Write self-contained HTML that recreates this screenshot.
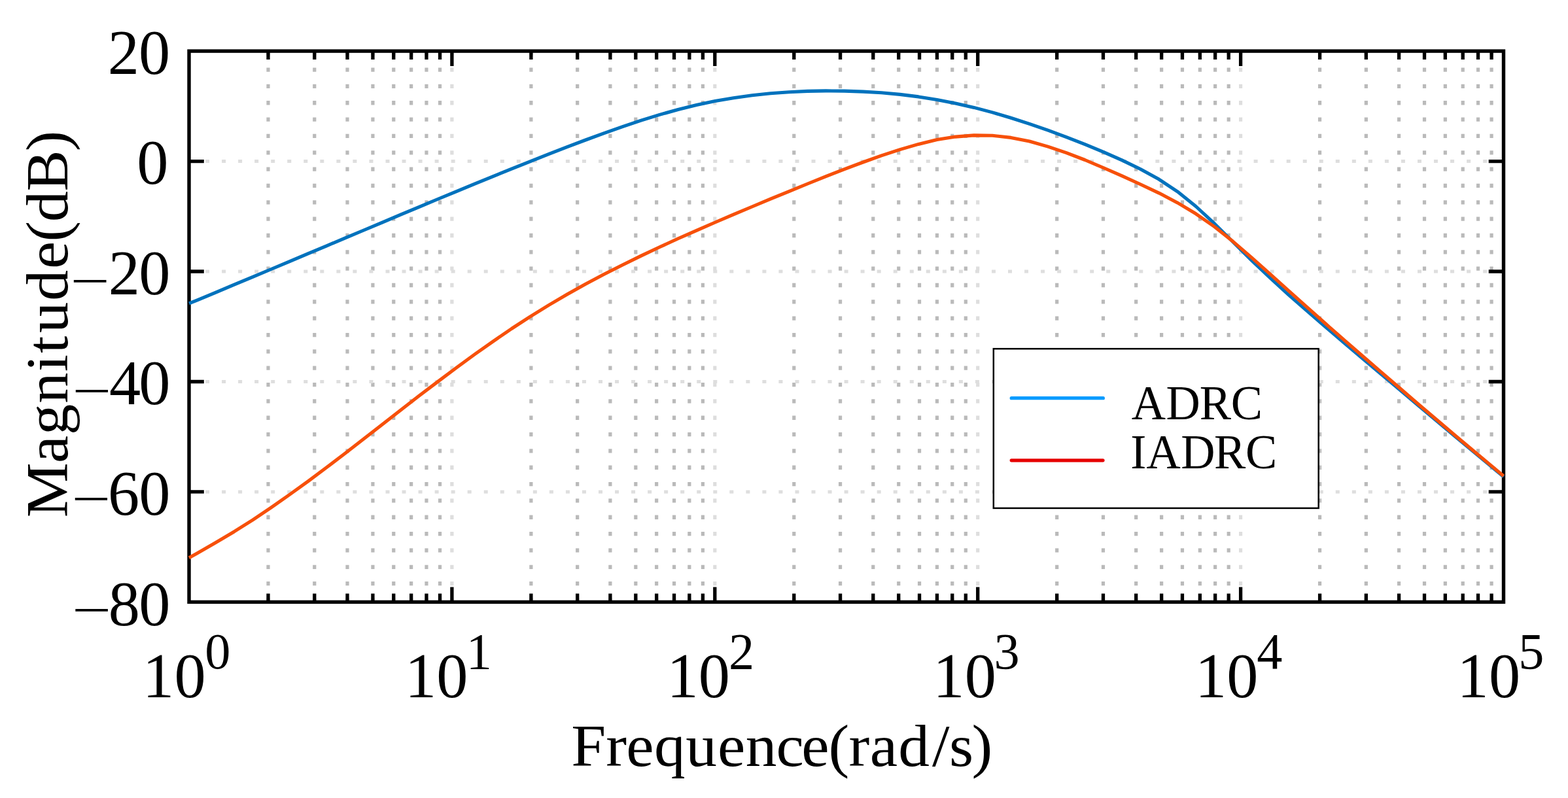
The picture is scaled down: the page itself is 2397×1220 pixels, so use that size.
<!DOCTYPE html>
<html lang="en"><head><meta charset="utf-8"><title>Magnitude (dB) vs Frequence (rad/s): ADRC and IADRC</title>
<style>html,body{margin:0;padding:0;background:#fff;}body{width:2397px;height:1220px;overflow:hidden;}svg{display:block;}text{font-family:"Liberation Serif","DejaVu Serif",serif;fill:#000;white-space:pre;}</style></head><body>
<svg xmlns="http://www.w3.org/2000/svg" width="2397" height="1220" viewBox="0 0 2397 1220">
<rect x="0" y="0" width="2397" height="1220" fill="#fff"/>
<g fill="none" stroke-width="5.20" stroke-dasharray="6.30 19.04">
<path stroke="#bababa" d="M409.98 78.10V920.40M480.76 78.10V920.40M530.97 78.10V920.40M569.92 78.10V920.40M601.74 78.10V920.40M628.64 78.10V920.40M651.95 78.10V920.40M672.51 78.10V920.40M811.88 78.10V920.40M882.66 78.10V920.40M932.87 78.10V920.40M971.82 78.10V920.40M1003.64 78.10V920.40M1030.54 78.10V920.40M1053.85 78.10V920.40M1074.41 78.10V920.40M1213.78 78.10V920.40M1284.56 78.10V920.40M1334.77 78.10V920.40M1373.72 78.10V920.40M1405.54 78.10V920.40M1432.44 78.10V920.40M1455.75 78.10V920.40M1476.31 78.10V920.40M1615.68 78.10V920.40M1686.46 78.10V920.40M1736.67 78.10V920.40M1775.62 78.10V920.40M1807.44 78.10V920.40M1834.34 78.10V920.40M1857.65 78.10V920.40M1878.21 78.10V920.40M2017.58 78.10V920.40M2088.36 78.10V920.40M2138.57 78.10V920.40M2177.52 78.10V920.40M2209.34 78.10V920.40M2236.24 78.10V920.40M2259.55 78.10V920.40M2280.11 78.10V920.40"/>
<path stroke="#dedede" d="M690.90 78.10V920.40M1092.80 78.10V920.40M1494.70 78.10V920.40M1896.60 78.10V920.40"/>
</g>
<path fill="none" stroke="#dedede" stroke-width="5.00" stroke-dasharray="6.00 19.04" d="M289.00 246.56H2298.50M289.00 415.02H2298.50M289.00 583.48H2298.50M289.00 751.94H2298.50"/>
<g fill="none" stroke="#000" stroke-width="5.40" stroke-linecap="butt" stroke-linejoin="miter">
<rect x="289.00" y="78.10" width="2009.50" height="842.30"/>
<path stroke-width="5.30" d="M409.98 78.10v12.80M409.98 920.40v-12.80M480.76 78.10v12.80M480.76 920.40v-12.80M530.97 78.10v12.80M530.97 920.40v-12.80M569.92 78.10v12.80M569.92 920.40v-12.80M601.74 78.10v12.80M601.74 920.40v-12.80M628.64 78.10v12.80M628.64 920.40v-12.80M651.95 78.10v12.80M651.95 920.40v-12.80M672.51 78.10v12.80M672.51 920.40v-12.80M811.88 78.10v12.80M811.88 920.40v-12.80M882.66 78.10v12.80M882.66 920.40v-12.80M932.87 78.10v12.80M932.87 920.40v-12.80M971.82 78.10v12.80M971.82 920.40v-12.80M1003.64 78.10v12.80M1003.64 920.40v-12.80M1030.54 78.10v12.80M1030.54 920.40v-12.80M1053.85 78.10v12.80M1053.85 920.40v-12.80M1074.41 78.10v12.80M1074.41 920.40v-12.80M1213.78 78.10v12.80M1213.78 920.40v-12.80M1284.56 78.10v12.80M1284.56 920.40v-12.80M1334.77 78.10v12.80M1334.77 920.40v-12.80M1373.72 78.10v12.80M1373.72 920.40v-12.80M1405.54 78.10v12.80M1405.54 920.40v-12.80M1432.44 78.10v12.80M1432.44 920.40v-12.80M1455.75 78.10v12.80M1455.75 920.40v-12.80M1476.31 78.10v12.80M1476.31 920.40v-12.80M1615.68 78.10v12.80M1615.68 920.40v-12.80M1686.46 78.10v12.80M1686.46 920.40v-12.80M1736.67 78.10v12.80M1736.67 920.40v-12.80M1775.62 78.10v12.80M1775.62 920.40v-12.80M1807.44 78.10v12.80M1807.44 920.40v-12.80M1834.34 78.10v12.80M1834.34 920.40v-12.80M1857.65 78.10v12.80M1857.65 920.40v-12.80M1878.21 78.10v12.80M1878.21 920.40v-12.80M2017.58 78.10v12.80M2017.58 920.40v-12.80M2088.36 78.10v12.80M2088.36 920.40v-12.80M2138.57 78.10v12.80M2138.57 920.40v-12.80M2177.52 78.10v12.80M2177.52 920.40v-12.80M2209.34 78.10v12.80M2209.34 920.40v-12.80M2236.24 78.10v12.80M2236.24 920.40v-12.80M2259.55 78.10v12.80M2259.55 920.40v-12.80M2280.11 78.10v12.80M2280.11 920.40v-12.80M690.90 78.10v22.80M690.90 920.40v-22.80M1092.80 78.10v22.80M1092.80 920.40v-22.80M1494.70 78.10v22.80M1494.70 920.40v-22.80M1896.60 78.10v22.80M1896.60 920.40v-22.80M289.00 246.56h22.80M2298.50 246.56h-22.80M289.00 415.02h22.80M2298.50 415.02h-22.80M289.00 583.48h22.80M2298.50 583.48h-22.80M289.00 751.94h22.80M2298.50 751.94h-22.80"/>
</g>
<path fill="none" stroke="#0072bd" stroke-width="5.10" stroke-linejoin="round" stroke-linecap="butt" d="M289.0 463.9L301.6 458.8L329.8 447.1L358.1 435.2L386.4 423.4L414.6 411.5L442.9 399.6L471.2 387.7L499.4 375.8L527.7 363.9L556.0 352.0L584.3 340.1L612.5 328.2L640.8 316.4L669.1 304.5L697.3 292.8L725.6 281.1L753.9 269.6L782.1 258.2L810.4 246.9L838.7 235.7L867.0 224.7L895.2 214.0L923.5 203.6L951.8 193.6L980.0 184.2L1008.3 175.4L1036.6 167.5L1064.8 160.6L1093.1 154.6L1121.4 149.7L1149.7 145.8L1177.9 142.8L1206.2 140.7L1234.5 139.4L1262.7 138.9L1291.0 139.1L1319.3 140.1L1347.5 141.8L1375.8 144.4L1404.1 147.9L1432.4 152.4L1460.6 157.9L1488.9 164.4L1517.2 171.9L1545.4 180.3L1573.7 189.4L1602.0 199.2L1630.2 209.6L1658.5 220.7L1686.8 232.4L1715.1 244.9L1743.3 258.5L1771.6 274.1L1799.9 292.8L1828.1 315.5L1856.4 341.7L1884.7 369.7L1912.9 397.6L1941.2 424.5L1969.5 450.3L1997.8 475.2L2026.0 499.6L2054.3 523.7L2082.6 547.7L2110.8 571.5L2139.1 595.4L2167.4 619.3L2195.7 643.1L2223.9 666.8L2252.2 690.4L2280.5 713.9L2298.5 728.9"/>
<path fill="none" stroke="#f7500a" stroke-width="5.10" stroke-linejoin="round" stroke-linecap="butt" d="M289.0 852.7L301.6 845.7L329.8 829.5L358.1 812.7L386.4 794.9L414.6 775.9L442.9 756.0L471.2 735.6L499.4 714.5L527.7 693.0L556.0 671.1L584.3 648.9L612.5 626.9L640.8 605.1L669.1 583.6L697.3 562.5L725.6 541.8L753.9 521.8L782.1 502.5L810.4 484.1L838.7 466.6L867.0 450.0L895.2 434.2L923.5 419.3L951.8 404.9L980.0 391.1L1008.3 377.8L1036.6 364.8L1064.8 352.3L1093.1 340.0L1121.4 327.9L1149.7 316.0L1177.9 304.2L1206.2 292.6L1234.5 281.0L1262.7 269.7L1291.0 258.6L1319.3 248.0L1347.5 237.9L1375.8 228.6L1404.1 220.4L1432.4 213.6L1460.6 209.1L1488.9 206.9L1517.2 207.3L1545.4 210.4L1573.7 216.0L1602.0 224.1L1630.2 233.7L1658.5 244.5L1686.8 256.5L1715.1 268.9L1743.3 281.7L1771.6 295.1L1799.9 309.9L1828.1 326.8L1856.4 346.5L1884.7 369.1L1912.9 393.4L1941.2 418.6L1969.5 444.1L1997.8 469.4L2026.0 494.5L2054.3 519.4L2082.6 544.0L2110.8 568.4L2139.1 592.8L2167.4 617.2L2195.7 641.3L2223.9 665.2L2252.2 689.0L2280.5 712.6L2298.5 727.7"/>
<rect x="1518.8" y="533.2" width="496.90" height="243.70" fill="#fff" stroke="#000" stroke-width="2.5"/>
<path d="M1546.2 608.7H1686.4" stroke="#0a9cff" stroke-width="5.2" stroke-linecap="round" fill="none"/>
<path d="M1546.2 703.8H1686.0" stroke="#e60000" stroke-width="5.2" stroke-linecap="round" fill="none"/>
<text font-size="96.3" x="164.72 212.07" y="112.8">20</text>
<text font-size="96.3" x="209.18" y="281.3">0</text>
<text font-size="96.3"><tspan font-size="76" x="107.58" y="455.08" textLength="60.23" lengthAdjust="spacingAndGlyphs">−</tspan><tspan x="165.77 212.28" y="449.7">20</tspan></text>
<text font-size="96.3"><tspan font-size="76" x="110.58" y="623.43" textLength="59.69" lengthAdjust="spacingAndGlyphs">−</tspan><tspan x="166.89 212.28" y="618.4">40</tspan></text>
<text font-size="96.3"><tspan font-size="76" x="109.58" y="788.33" textLength="59.69" lengthAdjust="spacingAndGlyphs">−</tspan><tspan x="164.89 212.28" y="786.9">60</tspan></text>
<text font-size="96.3"><tspan font-size="76" x="109.99" y="958.33" textLength="60.11" lengthAdjust="spacingAndGlyphs">−</tspan><tspan x="165.82 212.28" y="955.9">80</tspan></text>
<text font-size="96.3"><tspan x="218.08 266.48" y="1066.1">10</tspan><tspan font-size="78.3" x="313.32" y="1022">0</tspan></text>
<text font-size="96.3"><tspan x="618.93 667.27" y="1066.1">10</tspan><tspan font-size="78.3" x="712.64" y="1022">1</tspan></text>
<text font-size="96.3"><tspan x="1019.48 1067.72" y="1066.1">10</tspan><tspan font-size="78.3" x="1114.11" y="1022">2</tspan></text>
<text font-size="96.3"><tspan x="1426.33 1474.77" y="1066.1">10</tspan><tspan font-size="78.3" x="1519.48" y="1022">3</tspan></text>
<text font-size="96.3"><tspan x="1826.98 1875.33" y="1066.1">10</tspan><tspan font-size="78.3" x="1921.22" y="1022">4</tspan></text>
<text font-size="96.3"><tspan x="2227.48 2275.88" y="1066.1">10</tspan><tspan font-size="78.3" x="2321.28" y="1022">5</tspan></text>
<text transform="scale(1.06 1)" font-size="90" x="823.79 873.76 903.13 943.48 988.9 1035.02 1075.21 1119.35 1155.98 1194.86 1224.14 1254.57 1295.57 1344.29 1368.83 1401.48" y="1170.6">Frequence(rad/s)</text>
<text transform="translate(102.5 0) rotate(-90) scale(1.05 1)" font-size="90" x="-753.51 -674.18 -633.24 -587.28 -541.11 -514.25 -484.66 -438.1 -391.39 -351.88 -323.13 -278.5 -220.18" y="0">Magnitude(dB)</text>
<text transform="scale(0.975 1)" font-size="74.2" x="1774.19 1828.19 1880.75 1930.09" y="640.8">ADRC</text>
<text transform="scale(0.975 1)" font-size="74.2" x="1772.58 1797.37 1851.62 1903.62 1952.96" y="715.6">IADRC</text>
</svg></body></html>
